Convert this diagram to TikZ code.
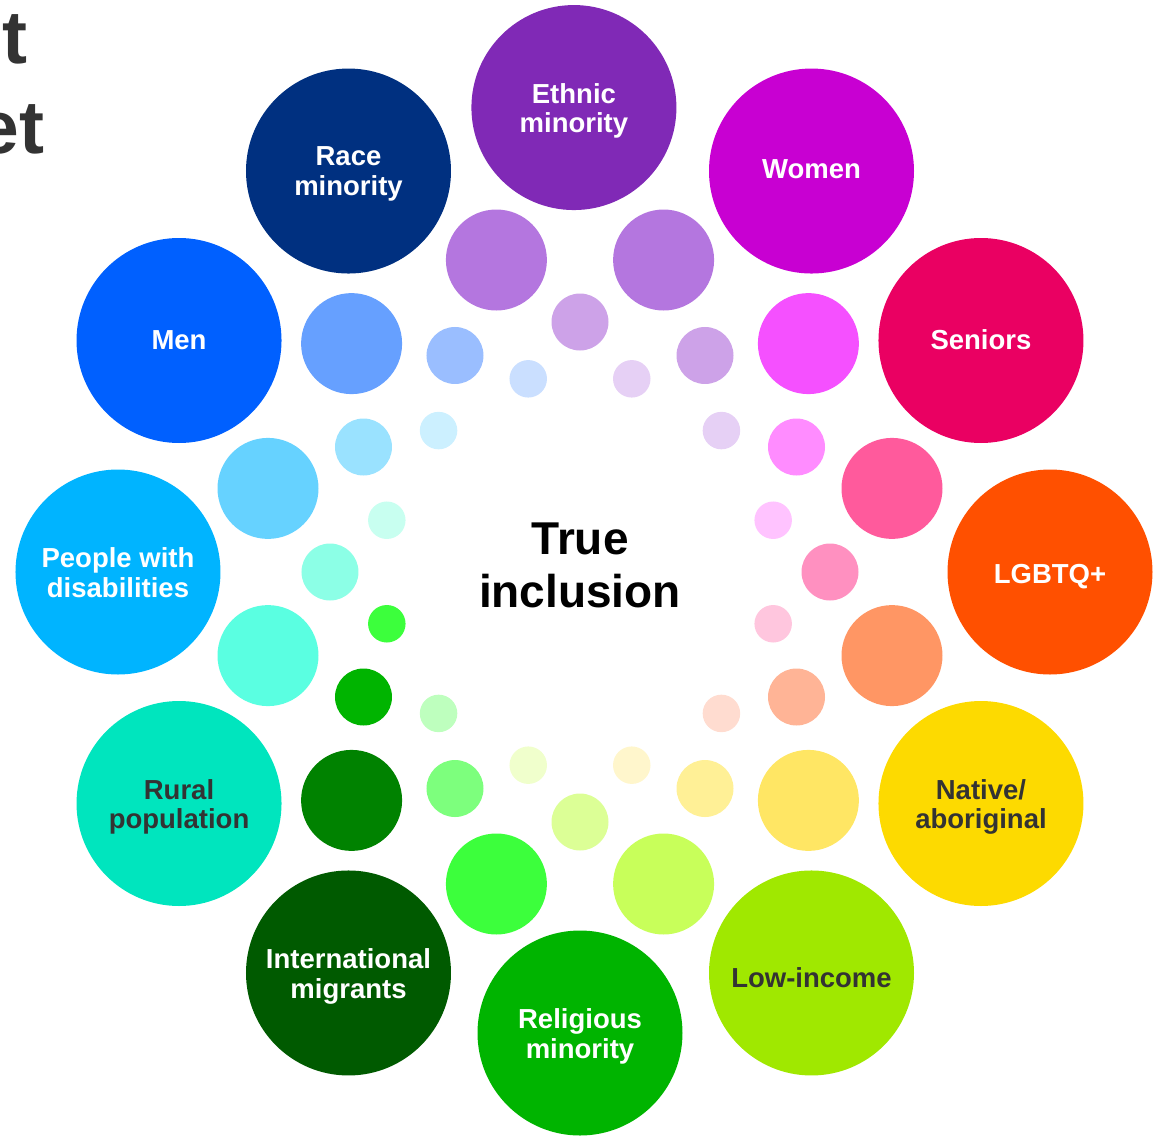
\documentclass[tikz,border=0pt]{standalone}
\usepackage{fontspec}
\setmainfont{Liberation Sans}
\usepackage{tikz}
\usetikzlibrary{shapes}
\definecolor{darkink}{HTML}{333333}
\tikzstyle{bubble}=[circle,inner sep=0pt,draw=none]
\tikzstyle{group bubble}=[bubble,minimum size=205pt]
\tikzstyle{mid bubble}=[bubble,minimum size=101pt]
\tikzstyle{small bubble}=[bubble,minimum size=57pt]
\tikzstyle{tiny bubble}=[bubble,minimum size=37.5pt]
\tikzstyle{tag}=[font=\bfseries\fontsize{27.5}{29.5}\selectfont,align=center,anchor=north,inner sep=0pt]
\tikzstyle{hub}=[font=\bfseries\fontsize{46}{53}\selectfont,align=center,anchor=north,inner sep=0pt]

\begin{document}
\begin{tikzpicture}[x=1pt,y=1pt]
    \useasboundingbox (-580,-564) rectangle (586,572);
    % heading running off the left edge
    \node[font=\bfseries\fontsize{75}{80}\selectfont,text=darkink,anchor=base east,inner sep=0pt] (head1) at (-552,508) {t};
    \node[font=\bfseries\fontsize{75}{80}\selectfont,text=darkink,anchor=base east,inner sep=0pt] (head2) at (-535.3,418.7) {et};
    % outer ring of groups
    \foreach \ang/\rad/\name/\hex/\txt/\ink/\top in {
        90.75/464.5/ethnic/8029B6/{Ethnic\\minority}/white/24.6,
        60/463/women/C800D2/{Women}/white/12,
        30/463/seniors/EA0062/{Seniors}/white/11,
        0/470/lgbtq/FF5000/{LGBTQ+}/white/8,
        -30/463/native/FDDA00/{Native/\\aboriginal}/darkink/24.6,
        -60/463/lowincome/A0E800/{Low-income}/darkink/6,
        -90/461/religious/00B400/{Religious\\minority}/white/24.6,
        -120/463/migrants/005A00/{International\\migrants}/white/24.6,
        -150/463/rural/00E5BE/{Rural\\population}/darkink/24.6,
        180/462/disability/00B4FF/{People with\\disabilities}/white/24.6,
        150/463/men/0060FF/{Men}/white/10,
        120/463/race/003080/{Race\\minority}/white/24.6}
    {
        \definecolor{fillc}{HTML}{\hex}
        \node[group bubble,fill=fillc] (\name) at (\ang:\rad) {};
        \node[tag,text=\ink,yshift=\top pt] (\name-txt) at (\name) {\txt};
    }
    % lighter bubbles in between
    \foreach \ang/\hex [count=\i] in {105/B476DF, 75/B476DF, 45/F550FF, 15/FF5A9C,
        -15/FF9664, -45/FFE664, -75/C8FF5A, -105/3CFF3C, -135/008200,
        -165/5AFFE1, 165/66D2FF, 135/66A0FF}
    {
        \definecolor{fillc}{HTML}{\hex}
        \node[mid bubble,fill=fillc] (m\i) at (\ang:323) {};
    }
    \foreach \ang/\hex [count=\i] in {90/CDA2E8, 60/CDA2E8, 30/FF8CFF, 0/FF90C0,
        -30/FFB496, -60/FFF096, -90/DCFF96, -120/7DFF7D, -150/00B400,
        180/8CFFE6, 150/9AE2FF, 120/9ABEFF}
    {
        \definecolor{fillc}{HTML}{\hex}
        \node[small bubble,fill=fillc] (s\i) at (\ang:250) {};
    }
    \foreach \ang/\hex [count=\i] in {105/CADFFF, 75/E6D0F5, 45/E6D0F5, 15/FFC3FF,
        -15/FFC6DE, -45/FFDCD0, -75/FFF6CC, -105/F0FFCC, -135/BEFFBE,
        -165/3CFF3C, 165/C8FFF0, 135/CCF0FF}
    {
        \definecolor{fillc}{HTML}{\hex}
        \node[tiny bubble,fill=fillc] (t\i) at (\ang:200) {};
    }
    \node[hub] (hub) at (0,49.3) {True\\inclusion};
\end{tikzpicture}
\end{document}
